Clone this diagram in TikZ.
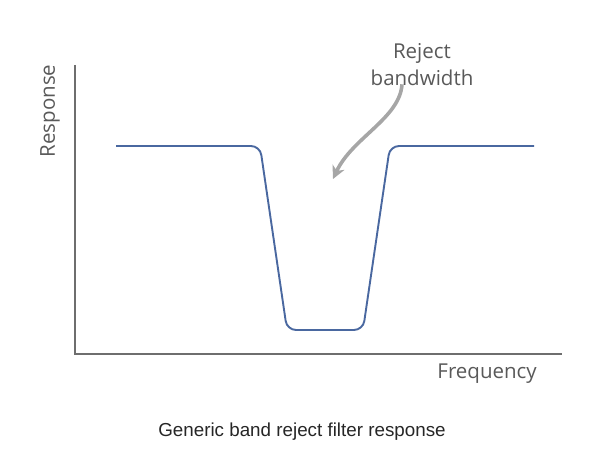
\documentclass[tikz,border=0pt]{standalone}
\usepackage{fontspec}
\setmainfont{Open Sans}
\newfontfamily\capfont{Liberation Sans}
\usetikzlibrary{positioning}
\usetikzlibrary{arrows.meta}
\definecolor{axisgray}{HTML}{6E6E6E}
\definecolor{textgray}{HTML}{595959}
\definecolor{curveblue}{HTML}{4A68A0}
\definecolor{arrowgray}{HTML}{A6A6A6}
\tikzset{
	axis/.style = {draw=axisgray, line width=2.6pt},
	resp/.style = {draw=curveblue, line width=1.9pt, rounded corners=9pt},
	lbl/.style = {text=textgray, font=\fontsize{20.5}{27}\selectfont, inner sep=0pt},
	pointer/.style = {draw=arrowgray, line width=3.6pt, -{Stealth[length=13pt,width=13pt,inset=4pt]}}
}

\begin{document}
\begin{tikzpicture}[x=1pt,y=-1pt]
\useasboundingbox (0,0) rectangle (605,462);

\coordinate (origin) at (75,354);
\coordinate (ytop) at (75,65);
\coordinate (xend) at (562,354);
\draw[axis] (ytop) -- (origin) -- (xend);

% band reject response
\draw[resp] (116,146) -- (260,146) -- (287,330) -- (363,330) -- (390,146) -- (534,146);

\node[lbl, rotate=90] (yname) at (50,111) {Response};
\node[lbl, anchor=east] (xname) at (537,374) {Frequency};
\node[lbl, align=center] (reject) at (422,65) {Reject\\bandwidth};

\coordinate (tip) at (333,179);
\draw[pointer] ([xshift=-20pt,yshift=2pt]reject.south) .. controls (400,118) and (352,138) .. (tip);

\node[text=black!85, font=\capfont\fontsize{18.8}{22}\selectfont, inner sep=0pt] (caption) at (302,432) {Generic band reject filter response};
\end{tikzpicture}
\end{document}
